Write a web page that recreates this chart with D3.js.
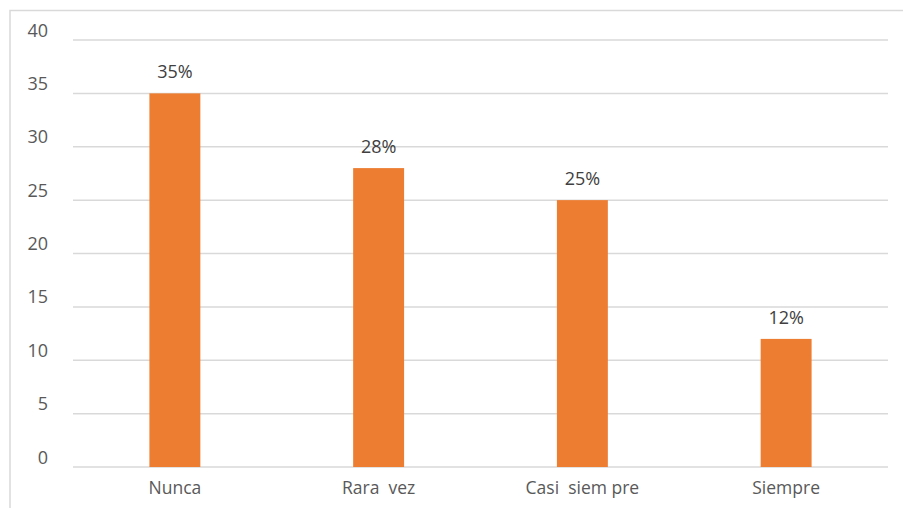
<!DOCTYPE html>
<html>
<head>
<meta charset="utf-8">
<script src="https://cdn.jsdelivr.net/npm/d3@7"></script>
<style>
  html, body { margin: 0; padding: 0; background: #fff; }
  svg { display: block; font-family: "Open Sans", "Liberation Sans", sans-serif; }
  text { white-space: pre; }
</style>
</head>
<body>
<svg id="chart" width="903" height="508"></svg>
<script>
// Frequency categories and their share (%)
const categories = ["Nunca", "Rara  vez", "Casi  siem pre", "Siempre"];
const values = [35, 28, 25, 12];
const valueLabels = ["35%", "28%", "25%", "12%"];
const yTicks = [0, 5, 10, 15, 20, 25, 30, 35, 40];

const svg = d3.select("#chart");
const plot = { left: 73, right: 888, top: 40, bottom: 467 };

// Outer chart frame
svg.append("rect")
  .attr("x", 10).attr("y", 10.5)
  .attr("width", 900).attr("height", 510)
  .attr("fill", "none")
  .attr("stroke", "#d9d9d9")
  .attr("stroke-width", 1.5);

const x = d3.scaleBand()
  .domain(categories)
  .range([plot.left, plot.right])
  .paddingInner(0.75)
  .paddingOuter(0.375);

const y = d3.scaleLinear()
  .domain([0, 40])
  .range([plot.bottom, plot.top]);

// Horizontal gridlines
svg.append("g")
  .selectAll("line")
  .data(yTicks)
  .join("line")
  .attr("x1", plot.left).attr("x2", plot.right)
  .attr("y1", d => y(d)).attr("y2", d => y(d))
  .attr("stroke", "#d9d9d9")
  .attr("stroke-width", 1.5);

// Y axis labels, sitting a little above their gridlines
const yAxis = d3.axisLeft(y).tickValues(yTicks).tickSize(0).tickPadding(0);
svg.append("g")
  .attr("transform", `translate(48,0)`)
  .call(yAxis)
  .call(g => g.select(".domain").remove())
  .call(g => g.selectAll("text")
    .attr("dy", "-0.22em")
    .attr("fill", "#595959")
    .style("font-size", "18px")
    .style("font-family", "'Open Sans', sans-serif"));

// Bars
svg.append("g")
  .selectAll("rect")
  .data(values)
  .join("rect")
  .attr("x", (d, i) => x(categories[i]))
  .attr("y", d => y(d))
  .attr("width", x.bandwidth())
  .attr("height", d => y(0) - y(d))
  .attr("fill", "#ED7D31");

// Value labels above bars
svg.append("g")
  .selectAll("text")
  .data(values)
  .join("text")
  .attr("x", (d, i) => x(categories[i]) + x.bandwidth() / 2)
  .attr("y", d => y(d) - 15)
  .attr("text-anchor", "middle")
  .attr("fill", "#404040")
  .style("font-size", "18px")
  .text((d, i) => valueLabels[i]);

// Category axis labels
const xAxis = d3.axisBottom(x).tickSize(0).tickPadding(0);
svg.append("g")
  .attr("transform", `translate(0,${plot.bottom + 13})`)
  .call(xAxis)
  .call(g => g.select(".domain").remove())
  .call(g => g.selectAll("text")
    .attr("dy", "0.8em")
    .attr("fill", "#595959")
    .style("font-size", "17.5px")
    .style("font-family", "'Open Sans', sans-serif"));
</script>
</body>
</html>
